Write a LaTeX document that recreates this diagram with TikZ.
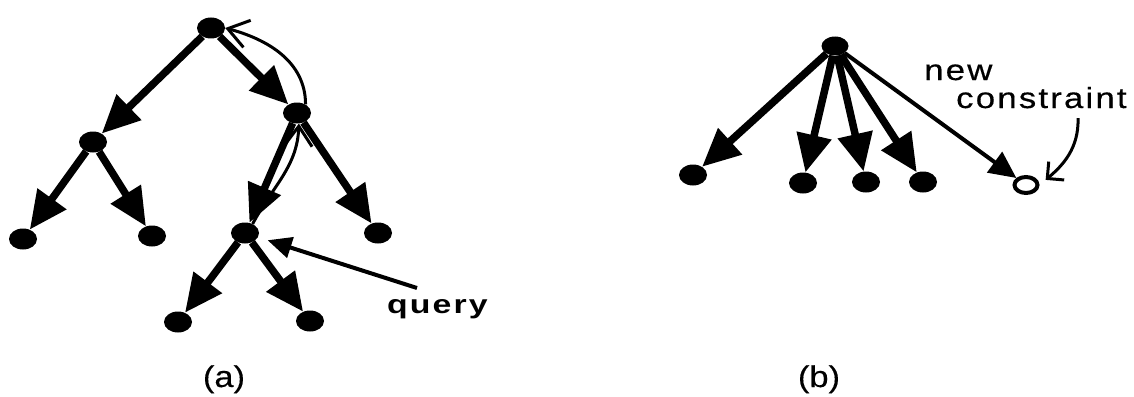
\documentclass[tikz,border=0pt]{standalone}
\usepackage{fontspec}
\setmainfont{Liberation Sans}
\newfontfamily\spacedfont[LetterSpace=7.5,FakeStretch=1.2,FakeBold=0.5]{Liberation Sans}
\newfontfamily\queryfont[LetterSpace=8,FakeStretch=1.3]{Liberation Sans}
\newfontfamily\capfont[FakeStretch=1.15,FakeBold=0.3]{Liberation Sans}
\usetikzlibrary{arrows.meta,shapes.geometric}

\begin{document}
\begin{tikzpicture}[x=1pt,y=-1pt,
  dot/.style={ellipse,fill=black,minimum width=28pt,minimum height=21pt,inner sep=0pt},
  ring/.style={ellipse,draw=black,line width=4pt,minimum width=23pt,minimum height=16pt,inner sep=0pt},
  edge/.style={line width=7.5pt,-{Triangle[length=38pt,width=34pt]}},
  thinedge/.style={line width=4pt,-{Triangle[length=27pt,width=25pt]}},
  pointer/.style={line width=4pt,-{Triangle[length=24pt,width=21pt]}},
  backarc/.style={line width=3pt,-{Straight Barb[length=20pt,width=28pt]}},
  hookarrow/.style={line width=3pt,-{Straight Barb[length=12pt,width=24pt]}},
  lbl/.style={inner sep=0pt,anchor=base west},
  caption/.style={inner sep=0pt,anchor=base,font=\capfont\fontsize{30}{36}\selectfont},
]
\useasboundingbox (0,0) rectangle (1134,396);

% ---- (a): search tree ----
\node[dot] (ra)   at (211,28)  {};
\node[dot] (a1)   at (93,142)  {};
\node[dot] (a2)   at (297,113) {};
\node[dot] (a11)  at (23,239)  {};
\node[dot] (a12)  at (152,236) {};
\node[dot] (a21)  at (245,233) {};
\node[dot] (a22)  at (378,233) {};
\node[dot] (a211) at (178,322) {};
\node[dot] (a212) at (310,321) {};

\draw[edge] (ra) -- (a1);
\draw[edge] (ra) -- (a2);
\draw[edge] (a1) -- (a11);
\draw[edge] (a1) -- (a12);
\draw[edge] (a2) -- (a21);
\draw[edge] (a2) -- (a22);
\draw[edge] (a21) -- (a211);
\draw[edge] (a21) -- (a212);

% backtracking path from the queried node up to the root
\draw[backarc] (a21.50) to[out=62,in=-92] (a2.-80);
\draw[backarc] (a2.45) to[out=90,in=-15] (ra.east);

% query pointer
\node[lbl,font=\queryfont\bfseries\fontsize{26}{30}\selectfont] (q) at (387,313) {query};
\coordinate (qtail) at (417,288);
\draw[pointer,shorten >=10pt] (qtail) -- (a21);

\node[caption] (capa) at (224,387) {(a)};

% ---- (b): flat constraint set ----
\node[dot,minimum width=27pt,minimum height=19pt] (rb) at (835,46) {};
\node[dot]  (b1) at (693,175)  {};
\node[dot]  (b2) at (803,183)  {};
\node[dot]  (b3) at (866,182)  {};
\node[dot]  (b4) at (923,182)  {};
\node[ring] (b5) at (1026,185) {};

\draw[edge] (rb) -- (b1);
\draw[edge] (rb) -- (b2);
\draw[edge] (rb) -- (b3);
\draw[edge] (rb) -- (b4);
\draw[thinedge] (rb) -- (b5);

\node[lbl,font=\spacedfont\fontsize{29}{34}\selectfont] (nw) at (924,80) {new};
\node[lbl,font=\spacedfont\fontsize{29}{34}\selectfont] (cs) at (956,108) {constraint};
\coordinate (ctail) at (1078,118);
\draw[hookarrow,shorten >=8pt] (ctail) to[out=-88,in=40] (b5.east);

\node[caption] (capb) at (819,387) {(b)};
\end{tikzpicture}
\end{document}
